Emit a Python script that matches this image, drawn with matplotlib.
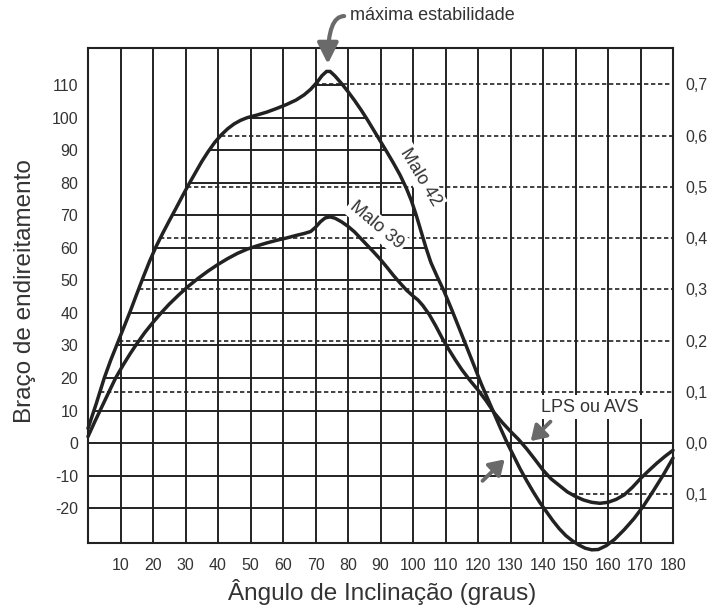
import numpy as np
import matplotlib.pyplot as plt
from matplotlib.patches import Polygon

plt.rcParams['font.family'] = ['Liberation Sans', 'DejaVu Sans']
plt.rcParams['axes.unicode_minus'] = False

# ---- data ----
angle42 = [0, 1, 2.5, 5, 7, 9, 11, 13, 15, 17, 19, 21, 23, 25, 27, 29, 31, 33, 35, 37, 39,
           41, 43, 45, 47, 49, 52, 55, 58, 61, 64, 66.5, 68.5, 70.5, 72, 73.4, 74.5, 76, 78,
           80, 82, 84, 86, 88, 90, 92, 94, 96, 98, 99.5, 101, 102.5, 104, 105.5, 107.5, 109.5,
           112, 115, 118, 121, 123, 125, 127, 129, 131, 133, 135, 137, 139, 141, 143, 145,
           147, 149, 151, 153, 155, 157, 159.5, 162, 165, 168, 171, 174, 177, 180]
malo42 = [4.5, 7.5, 12, 20, 25.5, 30.5, 35.5, 40.5, 45.8, 51, 56, 60.5, 64.5, 68.3, 72,
          75.8, 79.5, 83, 86.5, 89.6, 92.4, 94.7, 96.6, 98.1, 99.2, 100, 100.8, 101.7, 102.8,
          104, 105.4, 107, 108.7, 110.9, 112.9, 114.2, 114.2, 112.8, 110.5, 108, 105.3,
          102.4, 99.3, 96, 92.7, 89.4, 86, 82.4, 78.2, 74.5, 70, 65, 60, 55.5, 51, 46.8,
          40.8, 33.3, 25.8, 18.2, 13.6, 9, 4.4, 0, -4, -8, -11.6, -15, -18.2, -21, -23.8,
          -26.3, -28.4, -30, -31.3, -32.3, -32.8, -32.7, -31.5, -29.6, -26.6, -23.2, -19.2,
          -14.6, -9.8, -4.6]

angle39 = [0, 2, 4, 6, 8.5, 11, 13, 15, 17.5, 20, 22.5, 25, 28, 31, 34, 37, 40, 43, 46, 49,
           52, 55, 58, 61, 64, 66.5, 68.5, 70, 71.5, 73, 74.5, 76, 78, 80, 82, 84, 86, 88, 90,
           92, 94, 96, 98, 100, 101.5, 103, 105, 107, 109, 111, 113, 115, 117.5, 120, 122.5,
           125, 127.5, 130, 132.5, 135, 137.5, 140, 142.5, 145, 147.5, 150, 152.5, 155,
           157.5, 160, 162.5, 165, 167.5, 170, 172.5, 175, 177.5, 180]
malo39 = [2, 6.4, 10.6, 14.8, 20, 24.3, 27.5, 30.5, 34, 37.1, 40, 42.7, 45.6, 48.3, 50.7,
          52.9, 54.9, 56.7, 58.3, 59.6, 60.6, 61.5, 62.3, 63, 63.8, 64.4, 65, 66.3, 68, 69.2,
          69.5, 69.1, 68, 66.6, 64.9, 62.8, 60.7, 58.6, 56.4, 54, 51.5, 49.2, 47, 45.2, 44,
          42.3, 39.5, 36, 32.2, 28.8, 25.6, 22.6, 19.3, 16.3, 13, 9.3, 6.3, 3.6, 1.1, -1.8,
          -5, -8.3, -11, -13, -15, -16.4, -17.5, -18.2, -18.5, -18.2, -17.3, -15.9, -13.6,
          -10.9, -8.5, -6.2, -4.1, -2.2]

x_ticks = list(range(10, 190, 10))
y_ticks = list(range(-20, 120, 10))
right_ticks = [0.7, 0.6, 0.5, 0.4, 0.3, 0.2, 0.1, 0.0, -0.1]
right_labels = ['0,7', '0,6', '0,5', '0,4', '0,3', '0,2', '0,1', '0,0', '0,1']
K = 157.5  # left units per right unit

ink = '#222222'
txt = '#333333'
grey = '#6a6a6a'

fig = plt.figure(figsize=(7.1, 6.12), dpi=100)
ax = fig.add_axes([88/710, 69/612, 585/710, 495/612])
ax.set_xlim(0, 180)
ax.set_ylim(-30.7, 121.4)

# vertical grid
for x in range(0, 190, 10):
    ax.axvline(x, color=ink, lw=1.4, zorder=1)

a42 = np.array(angle42, float)
m42 = np.array(malo42, float)
a39 = np.array(angle39, float)
m39 = np.array(malo39, float)

# solid horizontal grid only below the Malo 42 curve (and everywhere below zero)
verts = np.column_stack([np.r_[a42[0], a42, a42[-1]],
                         np.r_[-80, np.maximum(m42, 3), -80]])
clip = Polygon(verts, closed=True, transform=ax.transData)
for y in y_ticks:
    ln = ax.axhline(y, color=ink, lw=1.4, zorder=1)
    ln.set_clip_path(clip)

# dashed lines for right-hand scale
ipk = int(np.argmax(m42))
imin39 = int(np.argmin(m39))
i0 = int(np.argmax(m39))
for v in right_ticks:
    lev = v * K
    if v > 0:
        x0 = np.interp(lev, m42[:ipk + 1], a42[:ipk + 1])
    elif v < 0:
        seg_a = a39[i0:imin39 + 1][::-1]
        seg_m = m39[i0:imin39 + 1][::-1]
        x0 = np.interp(lev, seg_m, seg_a)
    else:
        continue
    ax.hlines(lev, x0, 180, colors=ink, lw=1.2, linestyles=(0, (2.6, 1.6)), zorder=1)

# curves
ax.plot(a42, m42, color=ink, lw=2.5, zorder=4, clip_on=False,
        solid_joinstyle='round', solid_capstyle='round')
ax.plot(a39, m39, color=ink, lw=2.5, zorder=4, clip_on=False,
        solid_joinstyle='round', solid_capstyle='round')

# axes styling
for s in ax.spines.values():
    s.set_linewidth(1.5)
    s.set_color(ink)
    s.set_zorder(2)
ax.set_xticks(x_ticks)
ax.set_yticks(y_ticks)
ax.tick_params(axis='x', length=0, labelsize=11.5, colors=txt, pad=11)
ax.tick_params(axis='y', length=0, labelsize=11.5, colors=txt, pad=7)

ax2 = ax.twinx()
ax2.set_ylim(ax.get_ylim()[0] / K, ax.get_ylim()[1] / K)
ax2.set_yticks(right_ticks)
ax2.set_yticklabels(right_labels)
ax2.tick_params(axis='y', length=0, labelsize=11.5, colors=txt, pad=9)
for s in ax2.spines.values():
    s.set_visible(False)

fig.text(25/710, 1 - 291/612, 'Braço de endireitamento', rotation=90,
         ha='center', va='center', fontsize=17.5, color=txt)
fig.text(382/710, 1 - 592/612, 'Ângulo de Inclinação (graus)',
         ha='center', va='center', fontsize=17.5, color=txt)

# curve labels
box = dict(boxstyle='square,pad=0.15', fc='white', ec='none')
ax.text(102.2, 81.8, 'Malo 42', rotation=-59, ha='center', va='center',
        fontsize=13, color=txt, bbox=box, zorder=3, rotation_mode='anchor')
ax.text(88.7, 66.8, 'Malo 39', rotation=-40, ha='center', va='center',
        fontsize=13, color=txt, bbox=box, zorder=3, rotation_mode='anchor')
ax.text(154.3, 11.0, 'LPS ou AVS', ha='center', va='center',
        fontsize=13, color=txt, bbox=dict(boxstyle='square,pad=0.2', fc='white', ec='none'),
        zorder=3)

# max stability annotation
ax.text(80.5, 131.4, 'máxima estabilidade', ha='left', va='center',
        fontsize=13, color=txt, clip_on=False)
ax.annotate('', xy=(73.8, 116.5), xytext=(78.8, 131.2), annotation_clip=False,
            arrowprops=dict(arrowstyle='-|>,head_length=0.7,head_width=0.35',
                            connectionstyle='angle3,angleA=180,angleB=90',
                            color=grey, lw=3, shrinkA=0, shrinkB=0,
                            mutation_scale=18), zorder=5)

# LPS arrows
ax.annotate('', xy=(136.2, 0.6), xytext=(142.3, 6.6),
            arrowprops=dict(arrowstyle='-|>,head_length=0.55,head_width=0.35',
                            color=grey, lw=2.8, shrinkA=0, shrinkB=0, mutation_scale=16),
            zorder=5)
ax.annotate('', xy=(128.2, -5.0), xytext=(121.4, -11.6),
            arrowprops=dict(arrowstyle='-|>,head_length=0.55,head_width=0.35',
                            color=grey, lw=2.8, shrinkA=0, shrinkB=0, mutation_scale=16),
            zorder=5)

fig.savefig('out.png', dpi=100)
